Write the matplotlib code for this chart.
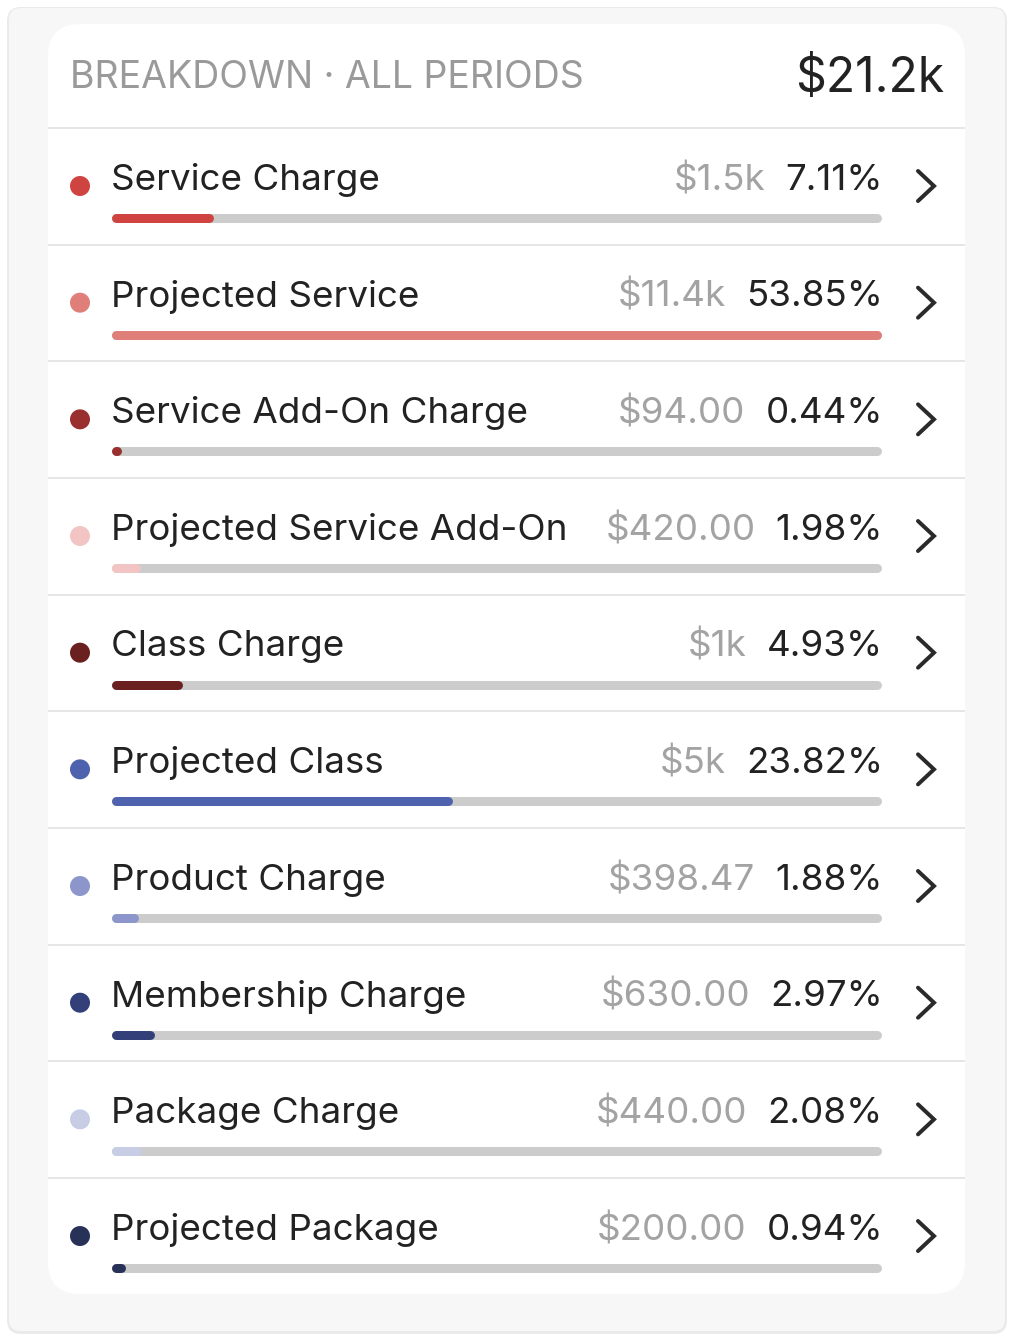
import matplotlib
matplotlib.use("Agg")
import matplotlib.pyplot as plt
from matplotlib.patches import FancyBboxPatch, Circle

plt.rcParams['font.family'] = ['Inter', 'DejaVu Sans']

# data
labels = ["Service Charge", "Projected Service", "Service Add-On Charge",
          "Projected Service Add-On", "Class Charge", "Projected Class",
          "Product Charge", "Membership Charge", "Package Charge",
          "Projected Package"]
amounts = [1500, 11400, 94.00, 420.00, 1000, 5000, 398.47, 630.00, 440.00, 200.00]
pcts = [7.11, 53.85, 0.44, 1.98, 4.93, 23.82, 1.88, 2.97, 2.08, 0.94]
colors = ["#cf4440", "#e07f7a", "#9a2f2f", "#f2c5c4", "#6b2020",
          "#4f62ad", "#8c96cb", "#323f78", "#c8cde6", "#283258"]
title = "BREAKDOWN · ALL PERIODS"
total = "$21.2k"


def fmt_money(v):
    if v >= 1000:
        s = "{:.1f}".format(v / 1000).rstrip("0").rstrip(".")
        return "$" + s + "k"
    return "${:.2f}".format(v)


def px(p):
    # pixel size -> points at dpi 100
    return p * 0.72


W, H = 1015, 1341
fig = plt.figure(figsize=(W / 100, H / 100), dpi=100)
ax = fig.add_axes([0, 0, 1, 1])
ax.set_xlim(0, W)
ax.set_ylim(H, 0)
ax.axis("off")

# outer panel + shadow
ax.add_patch(FancyBboxPatch((7, 7), 1000, 1327, boxstyle="round,pad=0,rounding_size=14",
                            fc="#dcdcdc", ec="none", alpha=0.6))
ax.add_patch(FancyBboxPatch((9, 8), 996, 1323, boxstyle="round,pad=0,rounding_size=12",
                            fc="#f7f7f7", ec="none"))
# card
ax.add_patch(FancyBboxPatch((48, 24), 917, 1270, boxstyle="round,pad=0,rounding_size=32",
                            fc="white", ec="none"))

# header
ax.text(70, 78, title, fontsize=px(37.5), color="#9a9a9a", va="center", ha="left")
ax.text(944, 79, total, fontsize=px(48), color="#222222", va="center", ha="right")

renderer = fig.canvas.get_renderer()
row_h = 116.67
top0 = 128
bar_x0, bar_x1 = 112, 882
cap = 4.5
maxp = max(pcts)

for i, (lab, amt, p, c) in enumerate(zip(labels, amounts, pcts, colors)):
    top = top0 + i * row_h
    ax.plot([48, 965], [top, top], color="#e6e6e6", lw=px(2), solid_capstyle="butt")

    ax.add_patch(Circle((80, top + 58), 10, fc=c, ec="none"))
    ax.text(111, top + 52, lab, fontsize=px(36.8), color="#222222", va="center", ha="left")

    tp = ax.text(883, top + 52, "{:.2f}%".format(p), fontsize=px(36.8), color="#222222",
                 va="center", ha="right")
    wpct = tp.get_window_extent(renderer).width
    ax.text(883 - wpct - 20, top + 52, fmt_money(amt), fontsize=px(36.8), color="#a3a3a3",
            va="center", ha="right")

    # progress bar (fill scaled to the largest share)
    yb = top + 90
    ax.plot([bar_x0 + cap, bar_x1 - cap], [yb, yb], color="#cccccc", lw=px(9),
            solid_capstyle="round")
    x_end = bar_x0 + (bar_x1 - bar_x0) * p / maxp - cap
    x_end = max(x_end, bar_x0 + cap + 0.3)
    ax.plot([bar_x0 + cap, x_end], [yb, yb], color=c, lw=px(9), solid_capstyle="round")

    # chevron
    yc = top + 58
    ax.plot([918, 934, 918], [yc - 15, yc, yc + 15], color="#2a2a2a", lw=px(4),
            solid_capstyle="round", solid_joinstyle="miter")

fig.savefig("out.png", dpi=100)
